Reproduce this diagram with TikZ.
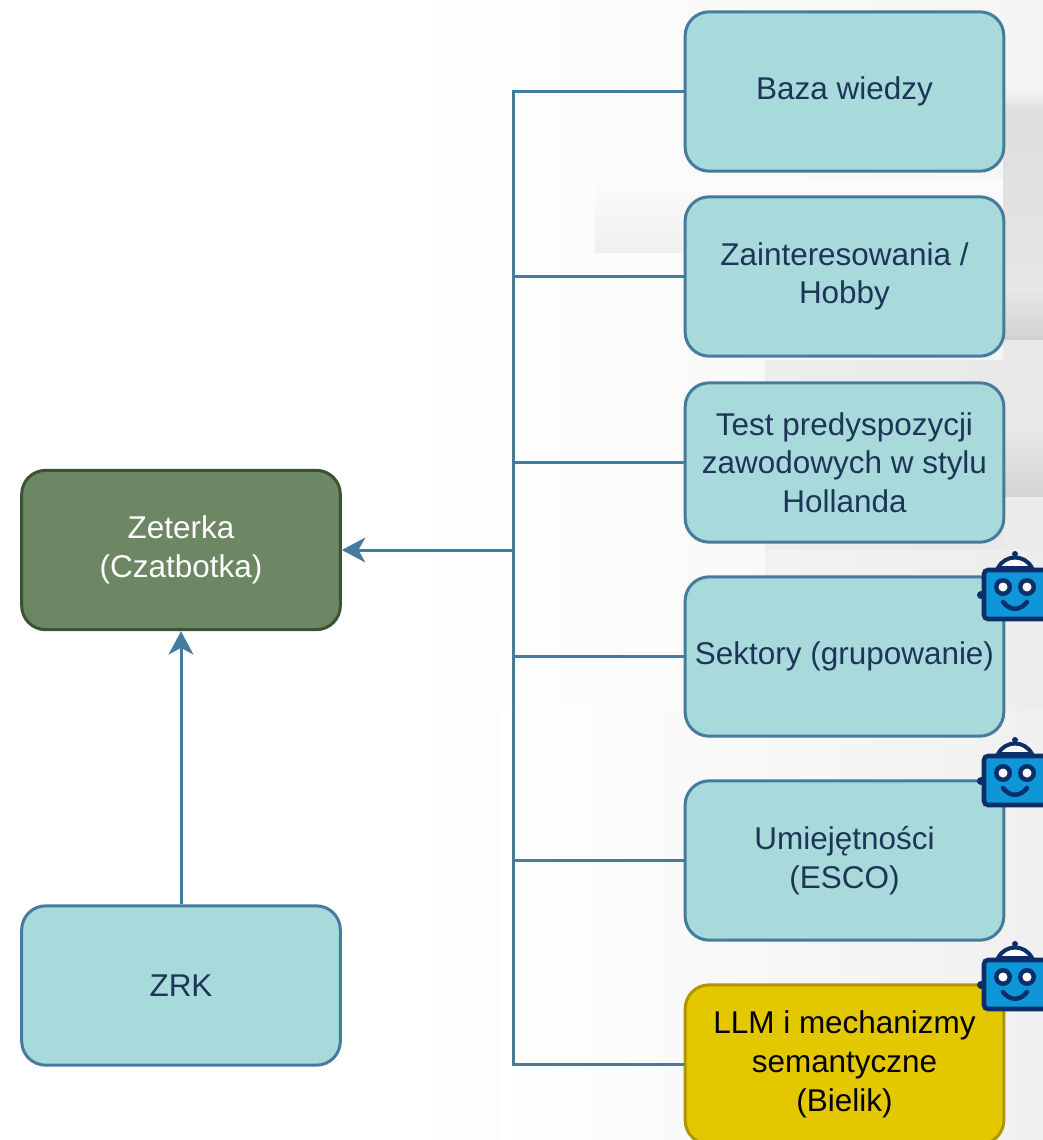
\documentclass[tikz,border=0pt]{standalone}
\usepackage{fontspec}
\setmainfont{Liberation Sans}
\usetikzlibrary{arrows.meta}
\definecolor{boxfill}{HTML}{A8DADC}
\definecolor{boxline}{HTML}{457B9D}
\definecolor{boxtext}{HTML}{1D3557}
\definecolor{greenfill}{HTML}{6D8764}
\definecolor{greenline}{HTML}{3A5431}
\definecolor{yelfill}{HTML}{E3C800}
\definecolor{yelline}{HTML}{B09500}
\definecolor{botdark}{HTML}{0B2F6B}
\definecolor{botblue}{HTML}{0F96D9}
\tikzset{
  card/.style={draw=boxline,fill=boxfill,text=boxtext,line width=2.25pt,rounded corners=18pt,
    minimum width=239pt,minimum height=119.5pt,inner sep=0pt,align=center,
    font=\fontsize{23.6pt}{29pt}\selectfont,
    execute at end node={\\[-2.6pt]}},
  greencard/.style={card,draw=greenline,fill=greenfill,text=white},
  yellowcard/.style={card,draw=yelline,fill=yelfill,text=black},
  link/.style={draw=boxline,line width=2.25pt},
  arrowlink/.style={link,-{Stealth[length=17.5pt,width=18.5pt,inset=5pt]}},
  robot/.pic={
    \fill[botdark] (-34,44) circle[radius=4];
    \draw[botdark,line width=3pt,line cap=round] (0,3) -- (0,8);
    \fill[botdark] (0,3) circle[radius=3];
    \draw[botdark,line width=3pt,fill=white] (-17,17) .. controls (-10,3) and (10,3) .. (17,17) -- cycle;
    \draw[botdark,line width=3.4pt,fill=botblue,rounded corners=3pt] (-31,19) rectangle (40,68);
    \fill[botdark] (-12,36) circle[radius=9];
    \fill[botdark] (12,36) circle[radius=9];
    \fill[white] (-12,36) circle[radius=4.5];
    \fill[white] (12,36) circle[radius=4.5];
    \draw[botdark,line width=3.4pt,line cap=round] (-12,51) .. controls (-5,60) and (5,60) .. (12,51);
  }
}
\begin{document}
\begin{tikzpicture}[x=0.75pt,y=-0.75pt]
\useasboundingbox (0,0) rectangle (1043,1140);
\clip (0,0) rectangle (1043,1140);
\fill[white] (0,0) rectangle (1043,1140);
% background photo, faded
\shade[left color=white,right color=black!4] (400,0) rectangle (1043,1140);
\shade[top color=black!1.5,bottom color=black!6] (595,180) rectangle (1003,252);
\shade[left color=black!7,right color=black!9] (765,360) rectangle (1043,550);
\shade[top color=black!4,bottom color=black!13] (1003,90) rectangle (1043,110);
\shade[top color=black!13,bottom color=black!10] (1003,110) rectangle (1043,287);
\shade[top color=black!9,bottom color=black!18] (1003,287) rectangle (1043,340);
\fill[black!9] (1003,340) rectangle (1043,430);
\shade[top color=black!9,bottom color=black!17] (1003,430) rectangle (1043,497);
\fill[black!8] (1003,497) rectangle (1043,550);
\shade[left color=black!5,right color=black!7] (765,550) rectangle (1043,710);
\shade[left color=white,right color=black!6] (500,710) rectangle (1043,1140);

\node[greencard] (zeterka) at (181,550) {Zeterka\\(Czatbotka)};
\node[card] (zrk) at (181,985.5) {ZRK};
\node[card] (baza) at (844.5,91.5) {Baza wiedzy};
\node[card] (hobby) at (844.5,276.5) {Zainteresowania /\\Hobby};
\node[card] (test) at (844.5,462.5) {Test predyspozycji\\zawodowych w stylu\\Hollanda};
\node[card] (sektory) at (844.5,656.5) {Sektory (grupowanie)};
\node[card] (esco) at (844.5,860.5) {Umiejętności\\(ESCO)};
\node[yellowcard] (llm) at (844.5,1064.5) {LLM i mechanizmy\\semantyczne\\(Bielik)};

\coordinate (hub) at (513,550);
\draw[link,line join=miter] (baza.west) -| (hub);
\draw[link] (hobby.west) -| (hub);
\draw[link] (test.west) -| (hub);
\draw[link] (sektory.west) -| (hub);
\draw[link] (esco.west) -| (hub);
\draw[link,line join=miter] (llm.west) -| (hub);
\draw[arrowlink] (hub) -- (zeterka.east);
\draw[arrowlink] (zrk.north) -- (zeterka.south);

\pic at (1015,551) {robot};
\pic at (1015,737) {robot};
\pic at (1015,941) {robot};
\end{tikzpicture}
\end{document}
